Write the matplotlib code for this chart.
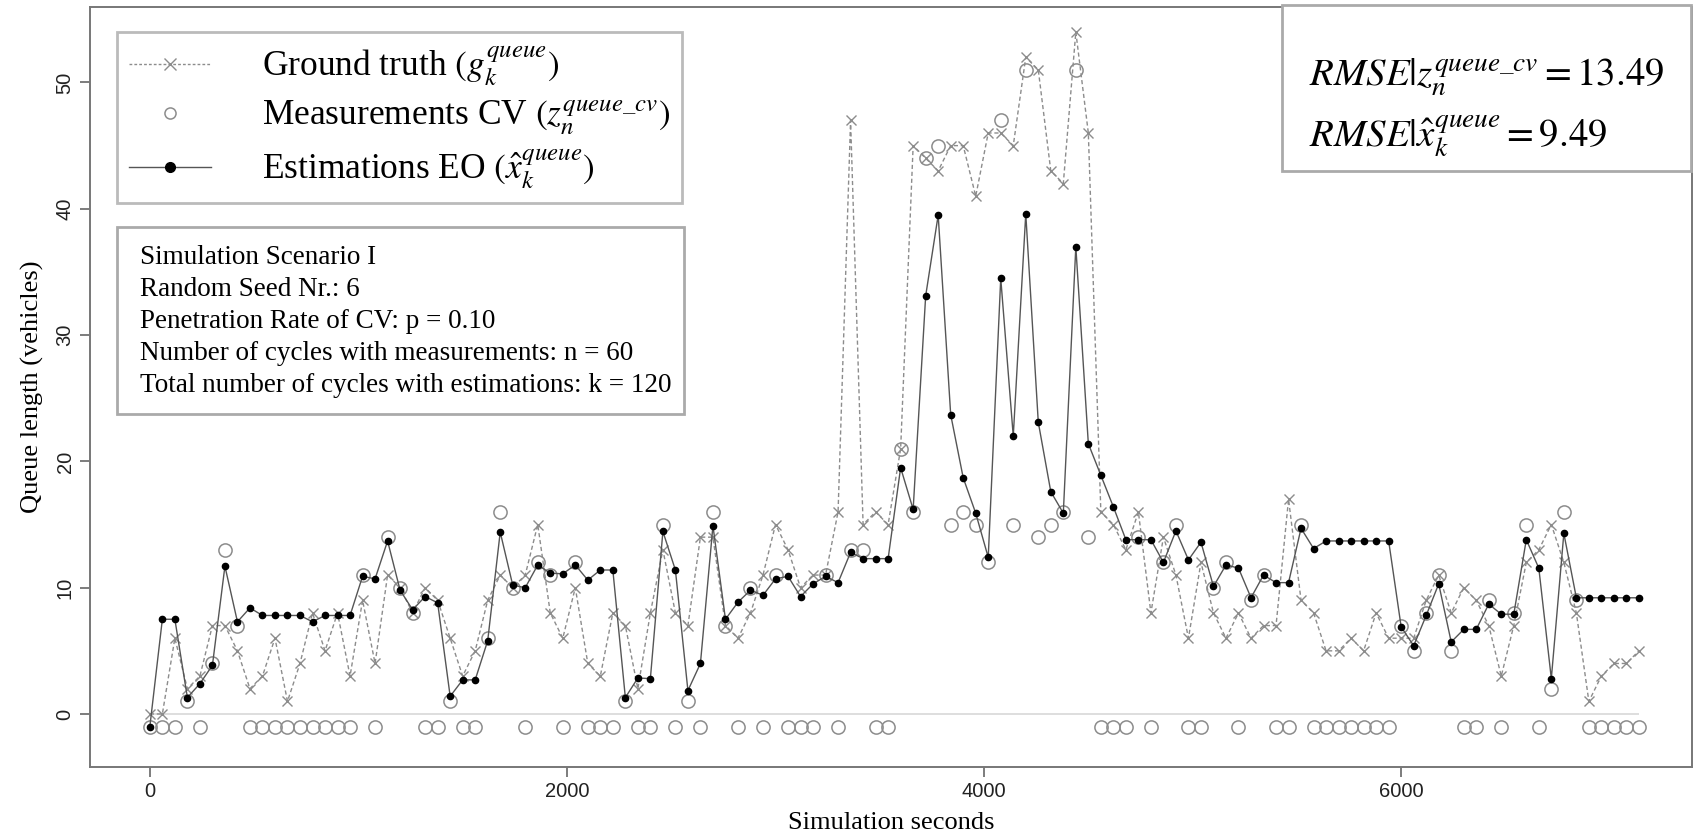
import numpy as np
import matplotlib.pyplot as plt
from matplotlib.lines import Line2D
from matplotlib.patches import Rectangle

plt.rcParams['font.family'] = ['Liberation Serif', 'DejaVu Serif']
plt.rcParams['mathtext.fontset'] = 'stix'

cycle_length = 60  # seconds per signal cycle

# ground truth queue per cycle (k = 120)
ground_truth = [0, 0, 6, 2, 3, 7, 7, 5, 2, 3, 6, 1, 4, 8, 5, 8, 3, 9, 4, 11,
                10, 8, 10, 9, 6, 3, 5, 9, 11, 10, 11, 15, 8, 6, 10, 4, 3, 8, 7, 2,
                8, 13, 8, 7, 14, 14, 7, 6, 8, 11, 15, 13, 10, 11, 11, 16, 47, 15, 16, 15,
                21, 45, 44, 43, 45, 45, 41, 46, 46, 45, 52, 51, 43, 42, 54, 46, 16, 15, 13, 16,
                8, 14, 11, 6, 12, 8, 6, 8, 6, 7, 7, 17, 9, 8, 5, 5, 6, 5, 8, 6,
                6, 6, 9, 11, 8, 10, 9, 7, 3, 7, 12, 13, 15, 12, 8, 1, 3, 4, 4, 5]

# CV measurements, -1 where the cycle had no measurement (n = 60)
measurements = [-1, -1, -1, 1, -1, 4, 13, 7, -1, -1, -1, -1, -1, -1, -1, -1, -1, 11, -1, 14,
                10, 8, -1, -1, 1, -1, -1, 6, 16, 10, -1, 12, 11, -1, 12, -1, -1, -1, 1, -1,
                -1, 15, -1, 1, -1, 16, 7, -1, 10, -1, 11, -1, -1, -1, 11, -1, 13, 13, -1, -1,
                21, 16, 44, 45, 15, 16, 15, 12, 47, 15, 51, 14, 15, 16, 51, 14, -1, -1, -1, 14,
                -1, 12, 15, -1, -1, 10, 12, -1, 9, 11, -1, -1, 15, -1, -1, -1, -1, -1, -1, -1,
                7, 5, 8, 11, 5, -1, -1, 9, -1, 8, 15, -1, 2, 16, 9, -1, -1, -1, -1, -1]

# EO estimations
estimations = [-1, 7.5, 7.5, 1.3, 2.4, 3.85, 11.7, 7.3, 8.4, 7.8, 7.8, 7.8, 7.8, 7.3, 7.8, 7.8, 7.8, 10.9, 10.7, 13.7,
               9.8, 8.25, 9.3, 8.8, 1.4, 2.7, 2.7, 5.8, 14.4, 10.2, 10.0, 11.8, 11.15, 11.1, 11.8, 10.6, 11.4, 11.4, 1.3, 2.85,
               2.8, 14.45, 11.4, 1.85, 4.0, 14.9, 7.5, 8.85, 9.8, 9.4, 10.7, 10.9, 9.3, 10.3, 10.9, 10.4, 12.8, 12.3, 12.3, 12.3,
               19.5, 16.2, 33.1, 39.5, 23.7, 18.7, 15.9, 12.4, 34.5, 22.0, 39.6, 23.1, 17.6, 15.9, 37.0, 21.4, 18.9, 16.4, 13.8, 13.8,
               13.8, 12.0, 14.5, 12.2, 13.6, 10.1, 11.8, 11.55, 9.2, 11.0, 10.4, 10.4, 14.7, 13.1, 13.7, 13.7, 13.7, 13.7, 13.7, 13.7,
               6.9, 5.4, 7.8, 10.3, 5.7, 6.7, 6.7, 8.7, 7.9, 7.9, 13.8, 11.55, 2.8, 14.3, 9.2, 9.2, 9.2, 9.2, 9.2, 9.2]

info_lines = ["Simulation Scenario I",
              "Random Seed Nr.: 6",
              "Penetration Rate of CV: p = 0.10",
              "Number of cycles with measurements: n = 60",
              "Total number of cycles with estimations: k = 120"]
rmse_meas = 13.49
rmse_est = 9.49

seconds = np.arange(len(ground_truth)) * cycle_length

fig = plt.figure(figsize=(16.94, 8.36), dpi=100)
ax = fig.add_axes([0.053, 0.0825, 0.946, 0.9095])

ax.hlines(0, seconds[0], seconds[-1], color='#d8d8d8', lw=1.2, zorder=1)
ax.plot(seconds, ground_truth, color='#8c8c8c', ls=(0, (3, 2)), lw=1.0,
        marker='x', ms=7, mew=1.0, zorder=2)
ax.plot(seconds, measurements, ls='none', marker='o', ms=9.5, mfc='none',
        mec='#8c8c8c', mew=1.1, zorder=3)
ax.plot(seconds, estimations, color='#555555', lw=1.0, marker='o', ms=4.5,
        mfc='black', mec='black', zorder=4)

ax.set_xlim(-288, 7396)
ax.set_ylim(-4.2, 56)
ax.set_xticks([0, 2000, 4000, 6000])
ax.set_yticks([0, 10, 20, 30, 40, 50])
ax.tick_params(direction='out', length=7, width=1.2, color='#666666',
               labelsize=14.5, labelcolor='#222222', pad=4)
for lab in ax.get_xticklabels() + ax.get_yticklabels():
    lab.set_fontfamily('Liberation Sans')
for lab in ax.get_yticklabels():
    lab.set_rotation(90)
    lab.set_va('center')
for sp in ax.spines.values():
    sp.set_color('#777777')
    sp.set_linewidth(1.4)

ax.set_xlabel('Simulation seconds', fontsize=19, labelpad=8)
ax.set_ylabel('Queue length (vehicles)', fontsize=19, labelpad=8)

handles = [
    Line2D([], [], color='#8c8c8c', ls=(0, (2, 1.5)), lw=1.0, marker='x', ms=9, mew=1.0),
    Line2D([], [], ls='none', marker='o', ms=8, mfc='none', mec='#8c8c8c', mew=1.1),
    Line2D([], [], color='#555555', lw=1.0, marker='o', ms=7, mfc='black', mec='black'),
]
labels = [r'Ground truth $(g_k^{queue})$',
          r'Measurements CV $(z_n^{queue\_cv})$',
          r'Estimations EO $(\hat{x}_k^{queue})$']
leg = ax.legend(handles, labels, loc='upper left', bbox_to_anchor=(0.0169, 0.9665),
                fontsize=25.5, frameon=True, fancybox=False, edgecolor='#aaaaaa',
                handlelength=2.3, handletextpad=1.45, borderpad=0.35, labelspacing=0.3,
                borderaxespad=0)
leg.get_frame().set_linewidth(2)

W, H = 1694, 836
# info box
fig.add_artist(Rectangle((117 / W, 1 - 414 / H), (684 - 117) / W, (414 - 227) / H,
                         transform=fig.transFigure, fc='white', ec='#aaaaaa', lw=2, zorder=5))
for j, line in enumerate(info_lines):
    fig.text(140 / W, 1 - (257 + j * 32) / H, line, fontsize=19.5, va='center', ha='left', zorder=6)

# RMSE box
fig.add_artist(Rectangle((1282 / W, 1 - 171 / H), (1691 - 1282) / W, (171 - 5) / H,
                         transform=fig.transFigure, fc='white', ec='#aaaaaa', lw=2, zorder=5))
fig.text(1309 / W, 1 - 77 / H, r'$RMSE|z_n^{queue\_cv} = %.2f$' % rmse_meas,
         fontsize=28, va='center', ha='left', zorder=6)
fig.text(1309 / W, 1 - 136 / H, r'$RMSE|\hat{x}_k^{queue} = %.2f$' % rmse_est,
         fontsize=28, va='center', ha='left', zorder=6)

fig.savefig('out.png', dpi=100)
